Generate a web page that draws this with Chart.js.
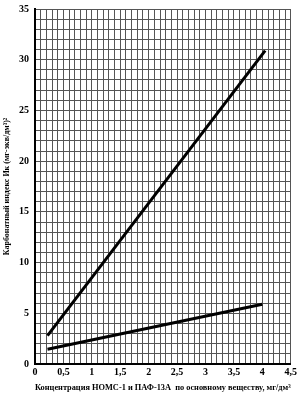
<!DOCTYPE html>
<html>
<head>
<meta charset="utf-8">
<script src="https://cdn.jsdelivr.net/npm/chart.js@4/dist/chart.umd.min.js"></script>
<style>
  html, body { margin: 0; padding: 0; background: #fff; }
  #wrap { position: relative; width: 300px; height: 395px; }
</style>
</head>
<body>
<div id="wrap"><canvas id="grafico" width="300" height="395"></canvas></div>
<script>
// данные
const concUpper = [0.22, 4.05];
const indexUpper = [2.8, 30.9];
const concLower = [0.22, 4.0];
const indexLower = [1.45, 5.9];

const xTickLabels = ['0', '0,5', '1', '1,5', '2', '2,5', '3', '3,5', '4', '4,5'];
const yTickLabels = ['0', '5', '10', '15', '20', '25', '30', '35'];

const tituloX = 'Концентрация НОМС-1 и ПАФ-13А  по основному веществу, мг/дм³';
const tituloY = 'Карбонатный индекс Ик (мг-экв/дм³)²';

function puntos(xs, ys) {
    return xs.map((x, i) => ({ x: x, y: ys[i] }));
}

const fuente = { family: '"Liberation Serif", "DejaVu Serif", serif', weight: 'bold', lineHeight: 1 };

const ctx = document.getElementById('grafico').getContext('2d');

new Chart(ctx, {
    type: 'scatter',
    data: {
        datasets: [
            {
                data: puntos(concUpper, indexUpper),
                showLine: true,
                borderColor: '#000',
                borderWidth: 3,
                pointRadius: 0
            },
            {
                data: puntos(concLower, indexLower),
                showLine: true,
                borderColor: '#000',
                borderWidth: 3,
                pointRadius: 0
            }
        ]
    },
    options: {
        responsive: false,
        animation: false,
        layout: { padding: { top: 0, right: 1, left: 3, bottom: 3 } },
        plugins: {
            legend: { display: false },
            tooltip: { enabled: false }
        },
        scales: {
            x: {
                type: 'linear',
                min: 0,
                max: 4.5,
                ticks: {
                    stepSize: 0.1,
                    autoSkip: false,
                    maxRotation: 0,
                    color: '#000',
                    padding: 3,
                    font: { ...fuente, size: 10 },
                    callback: function(v) {
                        const k = Math.round(v * 10);
                        return k % 5 === 0 ? xTickLabels[k / 5] : '';
                    }
                },
                grid: {
                    color: '#555',
                    lineWidth: 1,
                    drawTicks: false
                },
                border: { color: '#000', width: 2 },
                title: {
                    display: true,
                    text: tituloX,
                    color: '#000',
                    font: { ...fuente, size: 9 },
                    padding: { top: 3, bottom: 0 }
                }
            },
            y: {
                min: 0,
                max: 35,
                ticks: {
                    stepSize: 1,
                    autoSkip: false,
                    color: '#000',
                    padding: 6,
                    font: { ...fuente, size: 10, lineHeight: 0.6 },
                    callback: function(v) {
                        const k = Math.round(v);
                        return k % 5 === 0 ? yTickLabels[k / 5] : '';
                    }
                },
                grid: {
                    color: '#555',
                    lineWidth: 1,
                    drawTicks: false
                },
                border: { color: '#000', width: 2 },
                title: {
                    display: true,
                    text: tituloY,
                    color: '#000',
                    font: { ...fuente, size: 8 },
                    padding: { top: 0, bottom: 2 }
                }
            }
        }
    }
});
</script>
</body>
</html>
